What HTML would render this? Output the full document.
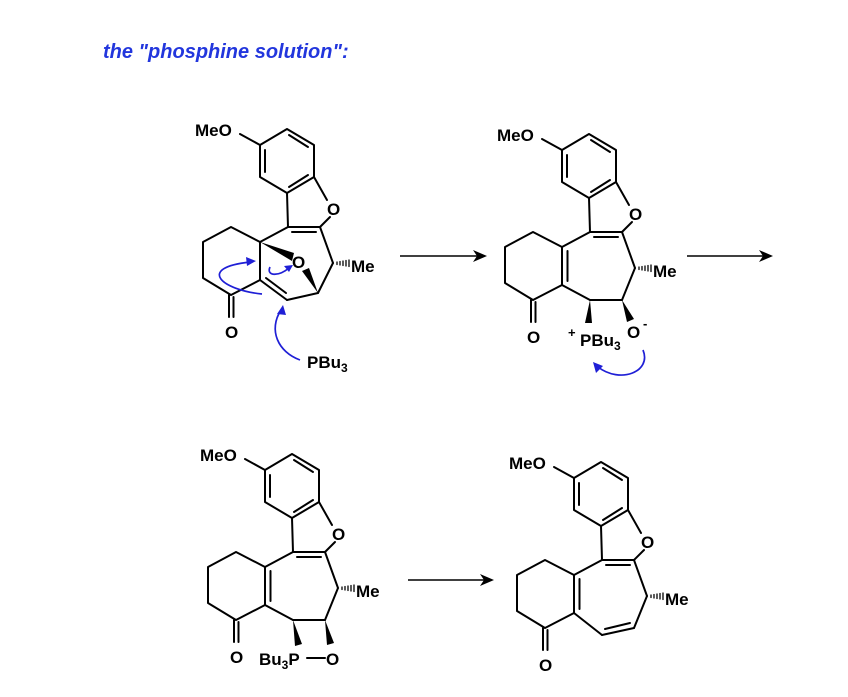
<!DOCTYPE html>
<html><head><meta charset="utf-8"><style>
html,body{margin:0;padding:0;background:#fff;}
svg{display:block;}
text{font-family:"Liberation Sans",Arial,sans-serif;font-weight:bold;fill:#000;}
</style></head><body>
<svg width="848" height="697" viewBox="0 0 848 697" xmlns="http://www.w3.org/2000/svg">
<defs>
<g id="core" stroke="#000" stroke-width="2" fill="none" stroke-linecap="round" stroke-linejoin="round">
  <polygon points="589,134 616,150 616,182 589,198 562,182 562,150"/>
  <line x1="567" y1="155" x2="567" y2="177"/>
  <line x1="591" y1="140" x2="610" y2="152"/>
  <line x1="591" y1="192" x2="610" y2="180"/>
  <line x1="542" y1="139" x2="562" y2="150"/>
  <line x1="616" y1="182" x2="629" y2="205"/>
  <line x1="632" y1="222" x2="622" y2="232"/>
  <line x1="589" y1="198" x2="590" y2="232"/>
  <line x1="590" y1="232" x2="562" y2="247"/>
  <polyline points="562,247 533,232 505,247 505,283 533,300 562,285 562,247"/>
  <line x1="531" y1="300" x2="531" y2="322"/>
  <line x1="535.5" y1="302" x2="535.5" y2="322"/>
  <line x1="622" y1="232" x2="635" y2="268"/>
  <g stroke-width="1.3">
   <line x1="639" y1="267" x2="639" y2="269.5"/>
   <line x1="642" y1="266.5" x2="642" y2="270"/>
   <line x1="645" y1="266" x2="645" y2="270.5"/>
   <line x1="648" y1="265.5" x2="648" y2="271"/>
   <line x1="651" y1="265" x2="651" y2="271.5"/>
  </g>
</g>
<g id="coretext">
  <text x="497" y="141" font-size="17">MeO</text>
  <text x="629" y="220" font-size="17">O</text>
  <text x="527" y="343" font-size="17">O</text>
  <text x="653" y="277" font-size="17">Me</text>
</g>
</defs>

<text x="103" y="58" font-size="20" font-style="italic" style="fill:#2236dd">the "phosphine solution":</text>

<!-- Structure 1 -->
<g transform="translate(-302,-5)">
  <use href="#core"/><use href="#coretext"/>
  <g stroke="#000" stroke-width="2" fill="none" stroke-linecap="round">
    <line x1="590" y1="232" x2="622" y2="232"/>
    <line x1="594" y1="237" x2="618" y2="237"/>
    <line x1="562" y1="285" x2="589" y2="305"/>
    <line x1="568" y1="283" x2="588" y2="298"/>
    <line x1="589" y1="305" x2="620" y2="298"/>
    <line x1="620" y1="298" x2="635" y2="268"/>
  </g>
  <polygon points="562,247 596,258 594,266" fill="#000"/>
  <polygon points="620,298 604,276 611,273" fill="#000"/>
  <text x="594" y="273" font-size="17">O</text>
</g>
<g stroke="#1f1fd6" stroke-width="1.7" fill="none">
  <path d="M262,294 C222,290 196,268 250,262"/>
  <path d="M270,267 C266,276 278,277 289,268"/>
  <path d="M300,360 C278,352 268,330 281,310"/>
</g>
<g fill="#1f1fd6">
  <polygon points="256,261 246,257 247,266"/>
  <polygon points="293,265 284,266 289,272"/>
  <polygon points="283,305 277,314 286,315"/>
</g>
<text x="307" y="368" font-size="17">PBu<tspan font-size="12" dy="4">3</tspan></text>

<!-- Structure 2 -->
<use href="#core"/><use href="#coretext"/>
<g stroke="#000" stroke-width="2" fill="none" stroke-linecap="round">
  <line x1="590" y1="232" x2="622" y2="232"/>
  <line x1="594" y1="237" x2="618" y2="237"/>
  <line x1="567.5" y1="251" x2="567.5" y2="281"/>
  <line x1="635" y1="268" x2="622" y2="300"/>
  <line x1="622" y1="300" x2="590" y2="300"/>
  <line x1="590" y1="300" x2="562" y2="285"/>
</g>
<polygon points="622,300 627,322 634,319" fill="#000"/>
<polygon points="590,300 585,323 592,323" fill="#000"/>
<text x="627" y="338" font-size="17">O</text>
<text x="643" y="328" font-size="13">-</text>
<text x="568" y="337" font-size="13">+</text>
<text x="580" y="346" font-size="17">PBu<tspan font-size="12" dy="4">3</tspan></text>
<path d="M643,350 C652,372 620,384 598,367" stroke="#1f1fd6" stroke-width="1.7" fill="none"/>
<polygon points="593,362 596,373 603,366" fill="#1f1fd6"/>

<!-- Arrows -->
<g stroke="#000" stroke-width="1.6">
  <line x1="400" y1="256" x2="480" y2="256"/>
  <line x1="687" y1="256" x2="766" y2="256"/>
  <line x1="408" y1="580" x2="487" y2="580"/>
</g>
<g fill="#000">
  <polygon points="487,256 473,250 477,256 473,262"/>
  <polygon points="773,256 759,250 763,256 759,262"/>
  <polygon points="494,580 480,574 484,580 480,586"/>
</g>

<!-- Structure 3 -->
<g transform="translate(-297,320)">
  <use href="#core"/><use href="#coretext"/>
  <g stroke="#000" stroke-width="2" fill="none" stroke-linecap="round">
    <line x1="590" y1="232" x2="622" y2="232"/>
    <line x1="594" y1="237" x2="618" y2="237"/>
    <line x1="567.5" y1="251" x2="567.5" y2="281"/>
    <line x1="635" y1="268" x2="622" y2="300"/>
    <line x1="622" y1="300" x2="590" y2="300"/>
    <line x1="590" y1="300" x2="562" y2="285"/>
    <line x1="604" y1="338" x2="622" y2="338"/>
  </g>
  <polygon points="622,300 624,325 631,323" fill="#000"/>
  <polygon points="590,300 592,326 599,324" fill="#000"/>
  <text x="623" y="345" font-size="17">O</text>
  <text x="556" y="345" font-size="17">Bu<tspan font-size="12" dy="4">3</tspan><tspan dy="-4">P</tspan></text>
</g>

<!-- Structure 4 -->
<g transform="translate(12,328)">
  <use href="#core"/><use href="#coretext"/>
  <g stroke="#000" stroke-width="2" fill="none" stroke-linecap="round">
    <line x1="590" y1="232" x2="622" y2="232"/>
    <line x1="594" y1="237" x2="618" y2="237"/>
    <line x1="567.5" y1="251" x2="567.5" y2="281"/>
    <line x1="635" y1="268" x2="622" y2="300"/>
    <line x1="622" y1="300" x2="590" y2="307"/>
    <line x1="618" y1="295" x2="593" y2="301"/>
    <line x1="590" y1="307" x2="562" y2="285"/>
  </g>
</g>
</svg>
</body></html>
